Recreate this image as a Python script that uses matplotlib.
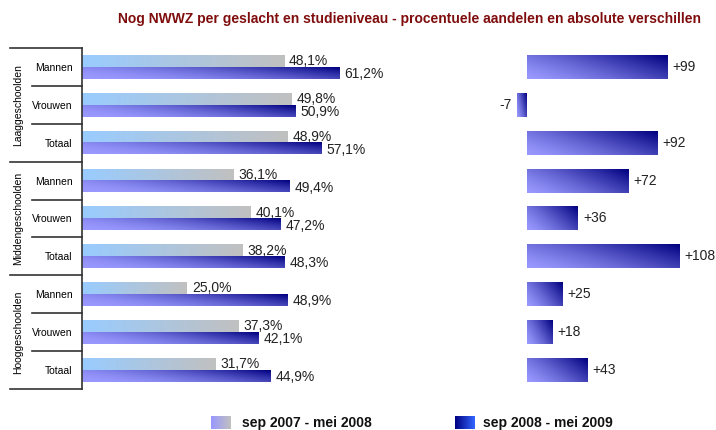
import numpy as np
import matplotlib
matplotlib.use('Agg')
import matplotlib.pyplot as plt
from matplotlib.colors import to_rgb

plt.rcParams['font.family'] = ['Liberation Sans', 'DejaVu Sans']

groups = ['Laaggeschoolden', 'Middengeschoolden', 'Hooggeschoolden']
categories = ['Mannen', 'Vrouwen', 'Totaal'] * 3
share_0708 = [48.1, 49.8, 48.9, 36.1, 40.1, 38.2, 25.0, 37.3, 31.7]
share_0809 = [61.2, 50.9, 57.1, 49.4, 47.2, 48.3, 48.9, 42.1, 44.9]
abs_diff = [99, -7, 92, 72, 36, 108, 25, 18, 43]
periods = ['sep 2007 - mei 2008', 'sep 2008 - mei 2009']


def gradient_img(c0, c1, diag=0.3, power=1.0, n=64):
    u = np.linspace(0, 1, n)[None, :]
    v = np.linspace(0, 1, n)[:, None]  # 0 = top row
    t = ((1 - diag) * u + diag * (1 - v)) ** power
    a = np.array(to_rgb(c0))
    b = np.array(to_rgb(c1))
    return a * (1 - t[..., None]) + b * t[..., None]


def fill_bars(ax, bars, c0, c1, diag, power):
    for p in bars:
        x0 = min(p.get_x(), p.get_x() + p.get_width())
        x1 = max(p.get_x(), p.get_x() + p.get_width())
        y0 = p.get_y()
        y1 = y0 + p.get_height()
        ax.imshow(gradient_img(c0, c1, diag, power), extent=(x0, x1, y1, y0),
                  aspect='auto', interpolation='bilinear', zorder=2)
        p.set_facecolor('none')
        p.set_edgecolor('none')


fig = plt.figure(figsize=(7.16, 4.30), dpi=100)

y = np.arange(len(categories))
h = 0.31

# left panel: percentages
ax1 = fig.add_axes([82 / 716, 41 / 430, 420 / 716, 341 / 430])
b1 = ax1.barh(y - h / 2, share_0708, height=h)
b2 = ax1.barh(y + h / 2, share_0809, height=h)
fill_bars(ax1, b1, '#99ccff', '#c0c0c0', 0.0, 1.0)
fill_bars(ax1, b2, '#9999ff', '#000080', 0.3, 1.8)
ax1.set_xlim(0, 100)
ax1.set_ylim(8.5, -0.5)

for i, (a, b) in enumerate(zip(share_0708, share_0809)):
    ax1.text(a + 1.2, i - h / 2, f'{a:.1f}%'.replace('.', ','), va='center',
             fontsize=10, color='#222222')
    ax1.text(b + 1.2, i + h / 2 + 0.03, f'{b:.1f}%'.replace('.', ','), va='center',
             fontsize=10, color='#222222')

for s in ['top', 'right', 'bottom']:
    ax1.spines[s].set_visible(False)
ax1.spines['left'].set_color('#333333')
ax1.spines['left'].set_linewidth(1.2)
ax1.set_xticks([])
ax1.set_yticks(y)
ax1.set_yticklabels(categories, fontsize=7.5)
ax1.tick_params(axis='y', length=0, pad=7)

trans = ax1.get_yaxis_transform()
for k in range(len(categories) + 1):
    yy = k - 0.5
    x_start = -0.171 if k % 3 == 0 else -0.119
    ax1.plot([x_start, 0], [yy, yy], color='#333333', lw=1.2,
             transform=trans, clip_on=False)

for g, name in enumerate(groups):
    ax1.text(-0.152, g * 3 + 1, name, rotation=90, ha='center', va='center',
             fontsize=7.5, transform=trans)

# right panel: absolute differences
ax2 = fig.add_axes([505 / 716, 41 / 430, 211 / 716, 341 / 430])
b3 = ax2.barh(y, abs_diff, height=0.63)
fill_bars(ax2, b3, '#9999ff', '#000080', 0.35, 1.3)
ax2.set_xlim(-15.6, 133.6)
ax2.set_ylim(8.5, -0.5)
for i, d in enumerate(abs_diff):
    if d >= 0:
        ax2.text(d + 3.5, i, f'{d:+d}', va='center', ha='left', fontsize=10,
                 color='#222222')
    else:
        ax2.text(d - 3.5, i, f'{d:+d}', va='center', ha='right', fontsize=10,
                 color='#222222')
ax2.axis('off')

fig.text(410 / 716, 1 - 19 / 430,
         'Nog NWWZ per geslacht en studieniveau - procentuele aandelen en absolute verschillen',
         ha='center', va='center', fontsize=10, fontweight='bold', color='#7f0d0d')

# legend
swatches = [(211, '#9999ff', '#c0c0c0', 242), (455, '#3366ff', '#000080', 483)]
for (sx, c0, c1, tx), label in zip(swatches, periods):
    lax = fig.add_axes([sx / 716, 1 / 430, 20 / 716, 13 / 430])
    img = gradient_img(c1, c0, 0.0, 1.0) if c0 == '#3366ff' else gradient_img(c0, c1, 0.0, 1.0)
    lax.imshow(img, aspect='auto', extent=(0, 1, 0, 1))
    lax.axis('off')
    fig.text(tx / 716, 1 - 423 / 430, label, ha='left', va='center',
             fontsize=10, fontweight='bold', color='#111111')

fig.savefig('out.png', dpi=100)
